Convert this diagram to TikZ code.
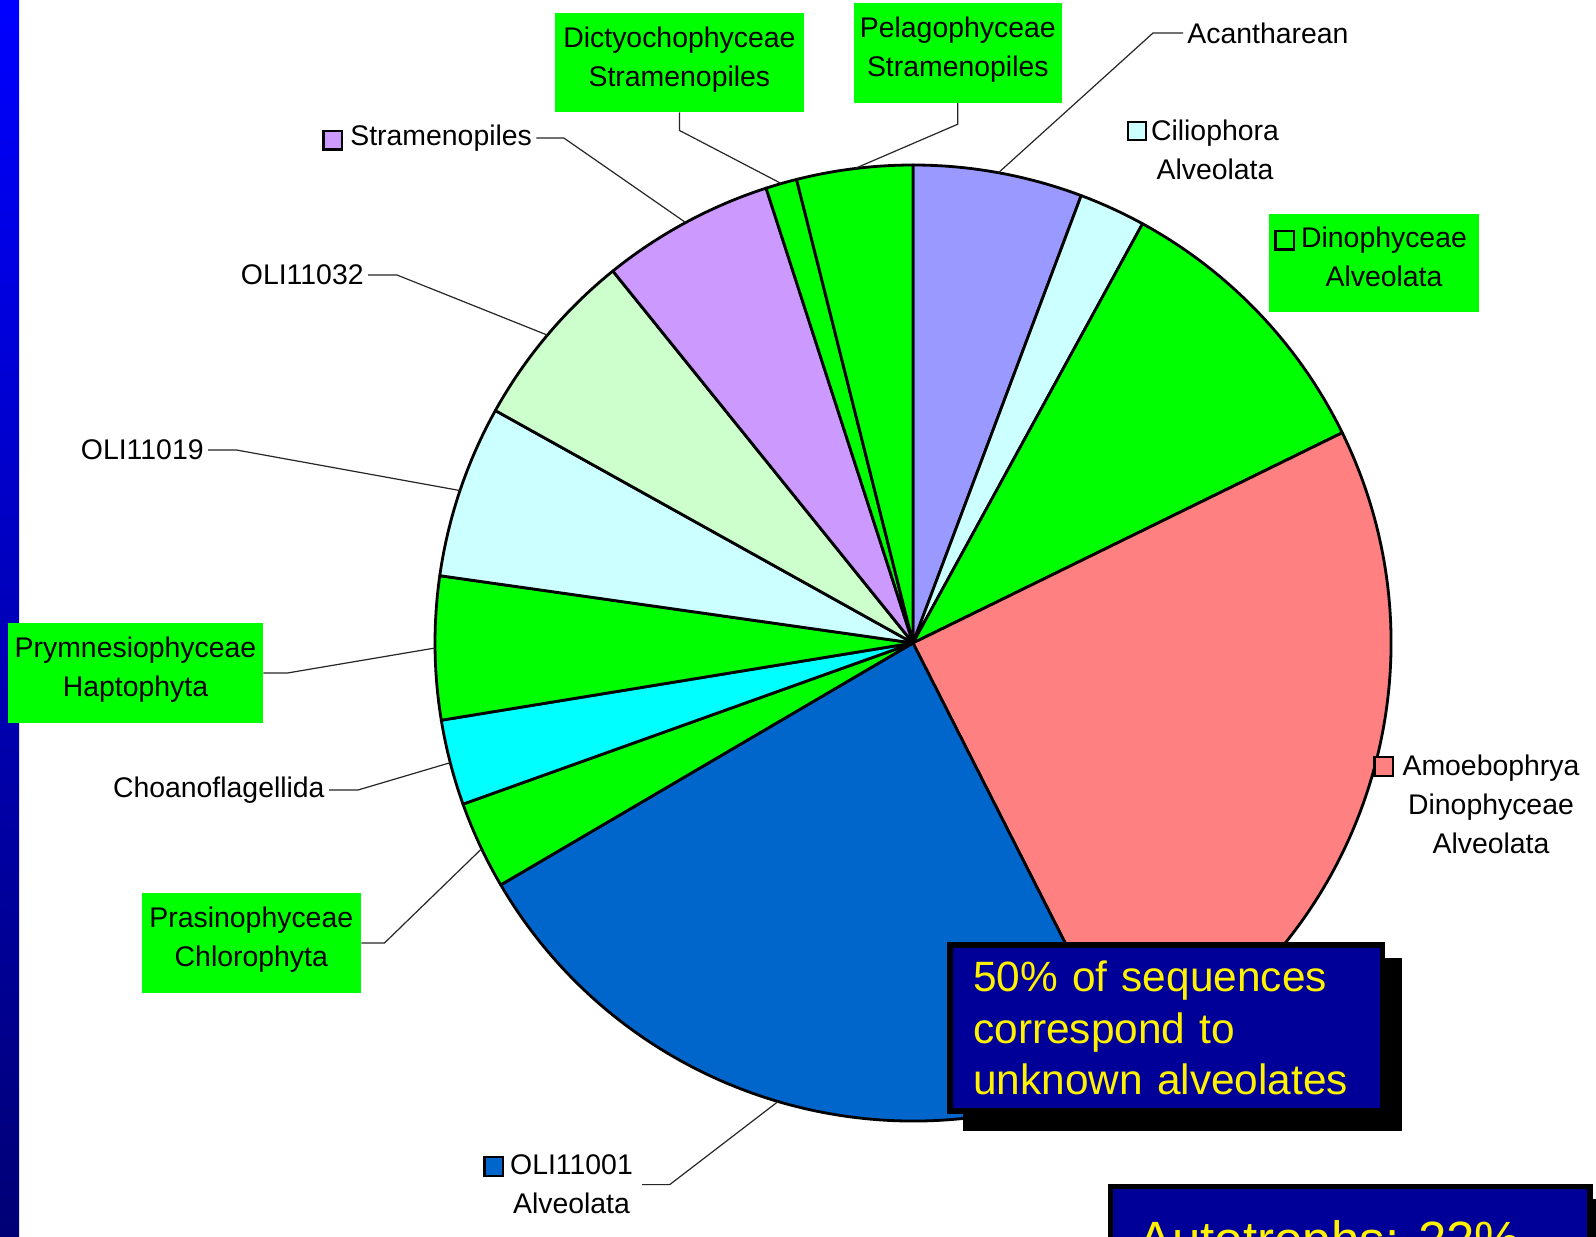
\documentclass[tikz,border=0pt]{standalone}
\usepackage{fontspec}
\setmainfont{Liberation Sans}
\definecolor{acanth}{RGB}{153,153,255}
\definecolor{cilio}{RGB}{204,255,255}
\definecolor{dino}{RGB}{0,255,0}
\definecolor{amoeb}{RGB}{255,128,128}
\definecolor{olione}{RGB}{0,102,204}
\definecolor{choano}{RGB}{0,255,255}
\definecolor{olilight}{RGB}{204,255,204}
\definecolor{strameno}{RGB}{204,153,255}
\definecolor{notenavy}{RGB}{0,0,153}
\definecolor{bartop}{RGB}{0,0,255}
\definecolor{barbottom}{RGB}{0,0,117}

\begin{document}
\begin{tikzpicture}[x=0.5pt, y=-0.5pt, font=\fontsize{14.2}{19.4}\selectfont,
    lab/.style={inner sep=2pt, align=center},
    gbox/.style={fill=dino, inner sep=0pt, align=center, text depth=6pt},
    legsq/.style={draw=black, line width=1.2pt, minimum size=9.25pt, inner sep=0pt},
    slice/.style={draw=black, line width=1.4pt, line join=round},
    leader/.style={draw=black!85, line width=0.6pt},
    notebox/.style={draw=black, fill=notenavy, line width=2.75pt, inner sep=0pt,
        text=yellow, align=left, font=\fontsize{21.2}{25.7}\selectfont}]
        \clip (0,0) rectangle (1596,1237);
        \fill[white] (0,0) rectangle (1596,1237);
        \shade[top color=bartop, bottom color=barbottom] (0,0) rectangle (19,1237);
        \coordinate (c) at (913,643);
        \foreach \a/\b/\col in {-90/-69.4/acanth, -69.4/-61.3/cilio, -61.3/-26.1/dino,
            -26.1/63.1/amoeb, 63.1/149.6/olione, 149.6/160.3/dino, 160.3/170.7/choano,
            170.7/188.1/dino, 188.1/209.1/cilio, 209.1/231.1/olilight, 231.1/252.1/strameno,
            252.1/255.9/dino, 255.9/270/dino}
            \filldraw[slice, fill=\col] (c) -- +(\a:478) arc[start angle=\a, end angle=\b, radius=478] -- cycle;
        \foreach \n/\a in {acanth/-79.7, oli01/106.4, prasino/154.5, choano/165.5, prymn/179.4,
            oli19/198.6, oli32/220.1, strameno/241.6, dicty/254, pelago/263}
            \coordinate (e-\n) at ([shift={(c)}]\a:478);

        \node[lab, anchor=west] (acanth) at (1183,33) {Acantharean};
        \node[lab] (cilio) at (1215,149.5) {Ciliophora\\Alveolata};
        \node[legsq, fill=cilio] (sq-cilio) at (1137,131) {};
        \node[fill=dino, minimum width=105pt, minimum height=48.85pt] (dino-box) at (1374,263) {};
        \node[lab] (dino) at (1384,257) {Dinophyceae\\Alveolata};
        \node[legsq, fill=dino] (sq-dino) at (1284.6,240.2) {};
        \node[lab] (amoeb) at (1491,804.5) {Amoebophrya\\Dinophyceae\\Alveolata};
        \node[legsq, fill=amoeb] (sq-amoeb) at (1383.8,766.5) {};
        \node[lab] (oli01) at (571.5,1184.6) {OLI11001\\Alveolata};
        \node[legsq, fill=olione] (sq-oli01) at (493.6,1166.5) {};
        \node[gbox, minimum width=109.75pt, minimum height=49.7pt] (prasino) at (251.3,943) {Prasinophyceae\\Chlorophyta};
        \node[lab, anchor=east] (choano) at (329,790) {Choanoflagellida};
        \node[gbox, minimum width=127.5pt, minimum height=49.7pt] (prymn) at (135.5,673) {Prymnesiophyceae\\Haptophyta};
        \node[lab, anchor=east] (oli19) at (208,450) {OLI11019};
        \node[lab, anchor=east] (oli32) at (368,275) {OLI11032};
        \node[lab, anchor=west] (strameno) at (346,138) {Stramenopiles};
        \node[legsq, fill=strameno] (sq-strameno) at (332.7,140.3) {};
        \node[gbox, minimum width=124.7pt, minimum height=49.4pt] (dicty) at (679.4,62.6) {Dictyochophyceae\\Stramenopiles};
        \node[gbox, minimum width=103.8pt, minimum height=49.9pt] (pelago) at (957.8,52.9) {Pelagophyceae\\Stramenopiles};

        \draw[leader] (acanth.west) -- ++(-30,0) -- (e-acanth);
        \draw[leader] ([xshift=2.5pt]oli01.east) -- ++(27.5,0) -- (e-oli01);
        \draw[leader] (prasino.east) -- ++(23,0) -- (e-prasino);
        \draw[leader] (choano.east) -- ++(29,0) -- (e-choano);
        \draw[leader] (prymn.east) -- ++(24,0) -- (e-prymn);
        \draw[leader] (oli19.east) -- ++(28.5,0) -- (e-oli19);
        \draw[leader] (oli32.east) -- ++(29,0) -- (e-oli32);
        \draw[leader] (strameno.east) -- ++(27.5,0) -- (e-strameno);
        \draw[leader] (dicty.south) -- ++(0,18) -- (e-dicty);
        \draw[leader] (pelago.south) -- ++(0,21) -- (e-pelago);

        \fill[black] (963,957.7) rectangle (1401.7,1130.7);
        \node[notebox, minimum width=216.25pt, minimum height=83pt, text width=192.7pt] (note) at (1166,1028) {50\% of sequences\\correspond to\\unknown alveolates};
        \fill[black] (1123.5,1199.3) rectangle (1620,1300);
        \filldraw[draw=black, fill=notenavy, line width=2.75pt] (1110.25,1186.55) rectangle (1590,1300);
        \node[anchor=base west, inner sep=0pt, text=yellow, font=\fontsize{25.5}{30}\selectfont] (auto) at (1138,1257.5) {Autotrophs: 22\%};
    \end{tikzpicture}
\end{document}
